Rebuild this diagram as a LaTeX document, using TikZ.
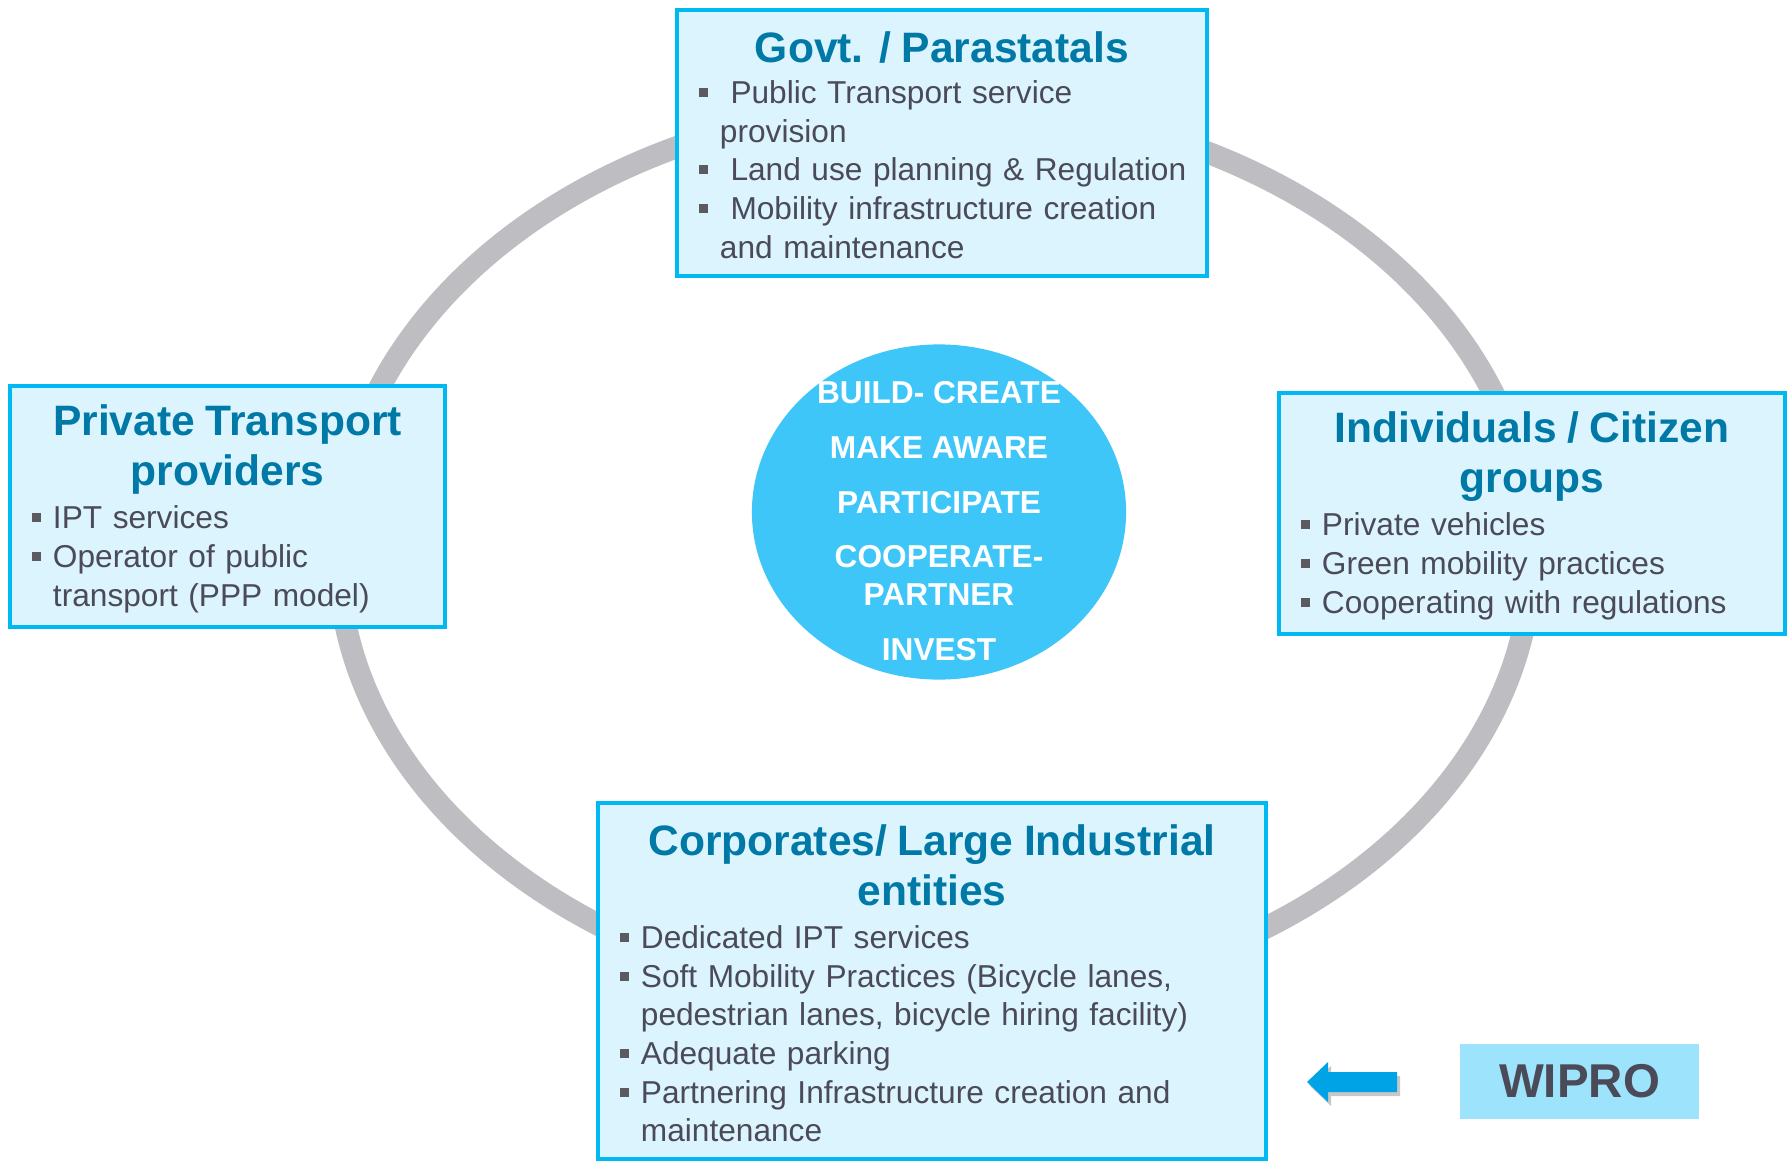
\documentclass[tikz,border=0pt]{standalone}
\usepackage{fontspec}
\setmainfont{Liberation Sans}
\usetikzlibrary{shapes.geometric}

\definecolor{boxfill}{RGB}{220,244,254}
\definecolor{boxline}{RGB}{0,185,242}
\definecolor{titleblue}{RGB}{0,121,166}
\definecolor{bodygray}{RGB}{74,74,88}
\definecolor{bulletgray}{RGB}{90,90,96}
\definecolor{ringgray}{RGB}{190,190,194}
\definecolor{hubblue}{RGB}{62,198,249}
\definecolor{tagfill}{RGB}{158,227,252}
\definecolor{arrowblue}{RGB}{0,163,230}

\hyphenpenalty=10000
\setlength{\parskip}{0pt}
\newcommand{\boxtitle}[1]{\makebox[\linewidth]{\fontsize{12.1}{14.3}\selectfont\bfseries\color{titleblue}\begin{tabular}{@{}c@{}}#1\end{tabular}}\par\vspace{0.4pt}}
\newcommand{\bul}{\makebox[6pt][l]{\textcolor{bulletgray}{\rule[1.8pt]{2.6pt}{2.6pt}}}}
\newcommand{\cont}{\hspace*{6pt}}

\begin{document}
\begin{tikzpicture}[
    x=0.01cm, y=-0.01cm,
    group/.style={rectangle, draw=boxline, line width=1pt, fill=boxfill, align=left, inner xsep=0.22cm, inner ysep=0pt, font=\fontsize{9}{11}\selectfont, text=bodygray},
    ring/.style={draw=ringgray, line width=6.3pt},
    hub/.style={ellipse, fill=hubblue, inner sep=0pt, minimum width=3.74cm, minimum height=3.35cm},
    hubtext/.style={align=center, text=white, inner sep=0pt, font=\fontsize{9}{10.7}\selectfont\bfseries},
    tag/.style={rectangle, fill=tagfill, minimum width=2.39cm, minimum height=0.75cm, text=bodygray, font=\fontsize{13.5}{16}\selectfont\bfseries}
  ]
    \useasboundingbox (0,0) rectangle (1787,1160);

    \draw[ring] (935,553) ellipse [x radius=597, y radius=450];

    \node[group, text width=4.86cm, minimum height=2.66cm] (govt) at (942,143) {\boxtitle{Govt. / Parastatals}
      \bul\ Public Transport service\\ \cont provision\\ \mbox{\bul\ Land use planning \& Regulation}\\ \bul\ Mobility infrastructure creation\\ \cont and maintenance};

    \node[group, text width=3.91cm, minimum height=2.41cm] (private) at (227.5,506.5) {\boxtitle{Private Transport\\providers}
      \bul IPT services\\ \bul Operator of public\\ \cont transport (PPP model)};

    \node[group, text width=4.62cm, minimum height=2.41cm] (citizen) at (1532,513.5) {\boxtitle{Individuals / Citizen\\groups}
      \bul Private vehicles\\ \bul Green mobility practices\\ \bul Cooperating with regulations};

    \node[group, text width=6.24cm, minimum height=3.56cm] (corporate) at (932,981) {\boxtitle{Corporates/ Large Industrial\\entities}
      \bul Dedicated IPT services\\ \bul Soft Mobility Practices (Bicycle lanes,\\ \cont pedestrian lanes, bicycle hiring facility)\\ \bul Adequate parking\\ \bul Partnering Infrastructure creation and\\ \cont maintenance};

    \node[hub] (hub) at (939,512) {};
    \node[hubtext] (actions) at (939,521) {BUILD- CREATE\\[4.9pt] MAKE AWARE\\[4.9pt] PARTICIPATE\\[4.9pt] COOPERATE-\\PARTNER\\[4.9pt] INVEST};

    % block arrow with its shadow
    \foreach \dx/\dy/\c in {3/4/black!22, 0/0/arrowblue}
      \fill[\c, shift={(\dx,\dy)}] (1397,1072) -- (1328,1072) -- (1328,1062) -- (1307,1082) -- (1328,1102) -- (1328,1092) -- (1397,1092) -- cycle;

    \node[tag] (wipro) at (1579.5,1081.5) {WIPRO};
  \end{tikzpicture}
\end{document}
